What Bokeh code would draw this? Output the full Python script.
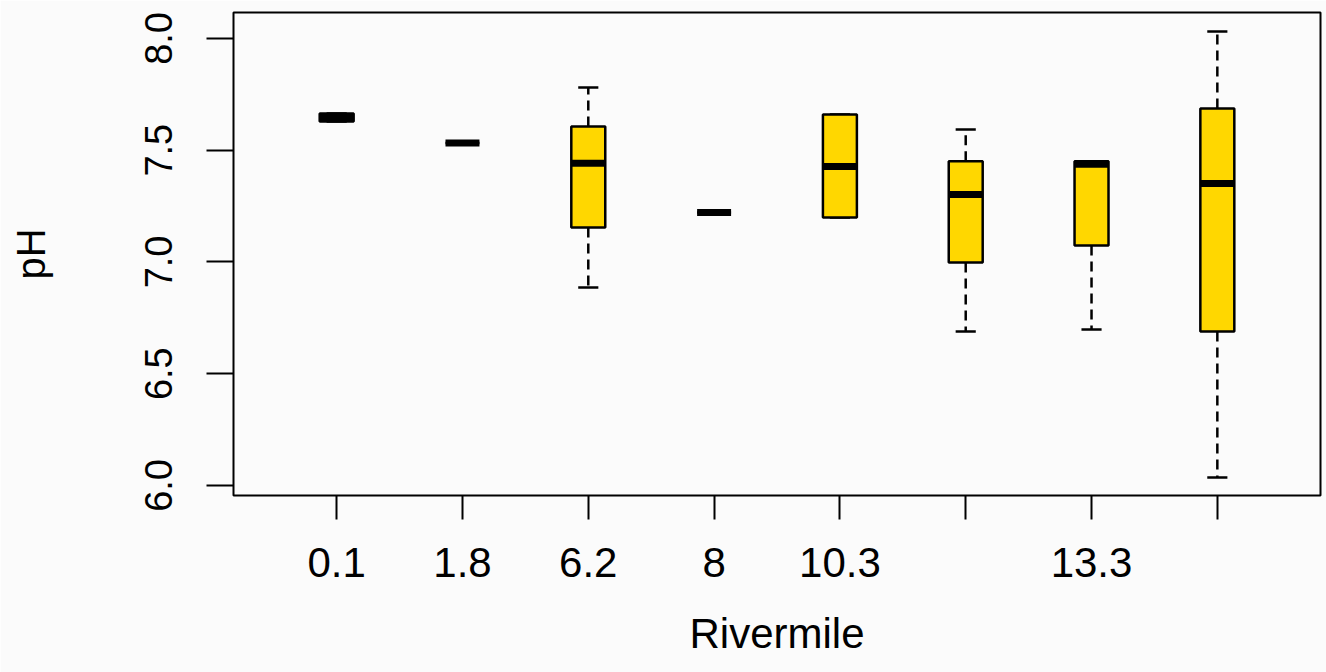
import numpy as np
from bokeh.plotting import figure
from bokeh.models import Range1d, FixedTicker, ColumnDataSource, PrintfTickFormatter
from bokeh.embed import file_html
from bokeh.resources import INLINE

# ---- data (pH by river mile) ----
rivermile = ["0.1", "1.8", "6.2", "8", "10.3", "", "13.3", ""]
whisker_low = [7.628, 7.532, 6.886, 7.221, 7.199, 6.689, 6.698, 6.036]
q1 = [7.628, 7.532, 7.154, 7.221, 7.199, 6.998, 7.074, 6.689]
median = [7.646, 7.532, 7.441, 7.221, 7.427, 7.302, 7.437, 7.351]
q3 = [7.664, 7.532, 7.606, 7.221, 7.660, 7.450, 7.450, 7.687]
whisker_high = [7.664, 7.532, 7.781, 7.221, 7.660, 7.593, 7.450, 8.031]
y_ticks = [6.0, 6.5, 7.0, 7.5, 8.0]

pos = list(range(1, len(rivermile) + 1))
box_w = 0.27
cap_w = 0.16

src = ColumnDataSource(dict(
    x=pos, lo=whisker_low, q1=q1, med=median, q3=q3, hi=whisker_high,
    left=[x - box_w / 2 for x in pos], right=[x + box_w / 2 for x in pos],
    cl=[x - cap_w / 2 for x in pos], cr=[x + cap_w / 2 for x in pos],
))

FONT = "Liberation Sans"
BG = "#fbfbfb"

p = figure(width=1326, height=672,
           x_range=Range1d(0.18, 8.82), y_range=Range1d(5.955, 8.116),
           output_backend="svg", toolbar_location=None,
           min_border_left=233, min_border_right=6,
           min_border_top=12, min_border_bottom=177,
           background_fill_color=BG, border_fill_color=BG)

p.outline_line_color = "black"
p.outline_line_width = 2
p.xgrid.visible = False
p.ygrid.visible = False

# whiskers (dashed)
p.segment(x0="x", y0="q3", x1="x", y1="hi", source=src,
          line_color="black", line_width=2.5, line_dash="10 6")
p.segment(x0="x", y0="q1", x1="x", y1="lo", source=src,
          line_color="black", line_width=2.5, line_dash="10 6")
# staples
p.segment(x0="cl", y0="hi", x1="cr", y1="hi", source=src,
          line_color="black", line_width=2.5)
p.segment(x0="cl", y0="lo", x1="cr", y1="lo", source=src,
          line_color="black", line_width=2.5)
# boxes
p.quad(left="left", right="right", bottom="q1", top="q3", source=src,
       fill_color="#FFD700", line_color="black", line_width=2.5)
# medians
p.segment(x0="left", y0="med", x1="right", y1="med", source=src,
          line_color="black", line_width=7)

# x axis
xa = p.xaxis[0]
xa.ticker = FixedTicker(ticks=pos)
xa.major_label_overrides = {x: lab for x, lab in zip(pos, rivermile)}
xa.axis_label = "Rivermile"
xa.axis_line_color = None
xa.major_tick_in = 0
xa.major_tick_out = 24
xa.major_tick_line_width = 2
xa.minor_tick_line_color = None
xa.major_label_text_font = FONT
xa.major_label_text_font_size = "42px"
xa.major_label_text_color = "black"
xa.major_label_standoff = 28
xa.axis_label_text_font = FONT
xa.axis_label_text_font_size = "42px"
xa.axis_label_text_font_style = "normal"
xa.axis_label_text_color = "black"
xa.axis_label_standoff = 30

# y axis
ya = p.yaxis[0]
ya.ticker = FixedTicker(ticks=y_ticks)
ya.formatter = PrintfTickFormatter(format="%.1f")
ya.axis_label = "pH"
ya.axis_line_color = None
ya.major_tick_in = 0
ya.major_tick_out = 27
ya.major_tick_line_width = 2
ya.minor_tick_line_color = None
ya.major_label_orientation = "vertical"
ya.major_label_text_font = FONT
ya.major_label_text_font_size = "38px"
ya.major_label_text_color = "black"
ya.major_label_standoff = 34
ya.axis_label_text_font = FONT
ya.axis_label_text_font_size = "40px"
ya.axis_label_text_font_style = "normal"
ya.axis_label_text_color = "black"
ya.axis_label_standoff = 90

open("out.html", "w").write(file_html(p, INLINE))
